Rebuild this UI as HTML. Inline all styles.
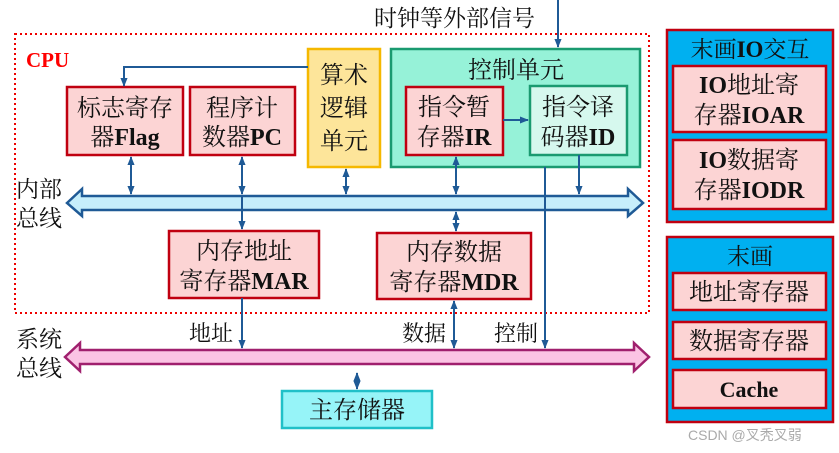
<!DOCTYPE html>
<html><head><meta charset="utf-8"><style>
html,body{margin:0;padding:0;background:#fff;}
svg{display:block;}
text{font-family:"Liberation Serif","Noto Serif CJK SC",serif;fill:#111;}
</style></head><body>
<svg width="839" height="453" viewBox="0 0 839 453" xmlns="http://www.w3.org/2000/svg">
<defs>
<marker id="a" viewBox="0 0 10 10" refX="9" refY="5" markerWidth="4.5" markerHeight="4.5" orient="auto-start-reverse"><path d="M0,1 L10,5 L0,9 z" fill="#1f5a96"/></marker>
</defs>
<rect x="15" y="34" width="634" height="279" fill="none" stroke="#e00" stroke-width="2" stroke-dasharray="2,3"/>
<text x="26" y="67" font-size="21" font-weight="bold" style="fill:#f00">CPU</text>
<text x="374" y="26" font-size="23">时钟等外部信号</text>
<line x1="558" y1="0" x2="558" y2="47" stroke="#1f5a96" stroke-width="2" marker-end="url(#a)"/>

<path d="M67,203 L82,189 L82,196 L628,196 L628,189 L643,203 L628,216 L628,210 L82,210 L82,216 Z" fill="#c6eefb" stroke="#1f5a96" stroke-width="2.5"/>
<path d="M65,357 L80,343 L80,350 L634,350 L634,343 L649,357 L634,371 L634,364 L80,364 L80,371 Z" fill="#fbc4e4" stroke="#a0206e" stroke-width="2.5"/>

<rect x="67" y="87" width="116" height="68" fill="#fcd4d4" stroke="#c00010" stroke-width="2.5"/>
<text x="125" y="116" font-size="24" text-anchor="middle">标志寄存</text>
<text x="125" y="145" font-size="24" text-anchor="middle">器<tspan font-weight="bold">Flag</tspan></text>
<rect x="190" y="87" width="105" height="68" fill="#fcd4d4" stroke="#c00010" stroke-width="2.5"/>
<text x="242" y="116" font-size="24" text-anchor="middle">程序计</text>
<text x="242" y="145" font-size="24" text-anchor="middle">数器<tspan font-weight="bold">PC</tspan></text>
<rect x="308" y="49" width="72" height="118" fill="#fde59a" stroke="#f5b800" stroke-width="2.5"/>
<text x="344" y="83" font-size="24" text-anchor="middle">算术</text>
<text x="344" y="116" font-size="24" text-anchor="middle">逻辑</text>
<text x="344" y="149" font-size="24" text-anchor="middle">单元</text>
<rect x="391" y="49" width="249" height="118" fill="#96f2d8" stroke="#1a9a70" stroke-width="2.5"/>
<text x="516" y="78" font-size="24" text-anchor="middle">控制单元</text>
<rect x="406" y="87" width="97" height="68" fill="#fcd4d4" stroke="#c00010" stroke-width="2.5"/>
<text x="454" y="115" font-size="24" text-anchor="middle">指令暂</text>
<text x="454" y="145" font-size="24" text-anchor="middle">存器<tspan font-weight="bold">IR</tspan></text>
<rect x="530" y="86" width="97" height="69" fill="#d6f8ee" stroke="#1a9a70" stroke-width="2.5"/>
<text x="578" y="115" font-size="24" text-anchor="middle">指令译</text>
<text x="578" y="145" font-size="24" text-anchor="middle">码器<tspan font-weight="bold">ID</tspan></text>
<line x1="503" y1="120" x2="528" y2="120" stroke="#1f5a96" stroke-width="2" marker-end="url(#a)"/>

<rect x="169" y="231" width="150" height="67" fill="#fcd4d4" stroke="#c00010" stroke-width="2.5"/>
<text x="244" y="259" font-size="24" text-anchor="middle">内存地址</text>
<text x="244" y="289" font-size="24" text-anchor="middle">寄存器<tspan font-weight="bold">MAR</tspan></text>
<rect x="377" y="233" width="154" height="66" fill="#fcd4d4" stroke="#c00010" stroke-width="2.5"/>
<text x="454" y="260" font-size="24" text-anchor="middle">内存数据</text>
<text x="454" y="290" font-size="24" text-anchor="middle">寄存器<tspan font-weight="bold">MDR</tspan></text>
<rect x="282" y="391" width="150" height="37" fill="#96f4f8" stroke="#20c0c8" stroke-width="2.5"/>
<text x="357" y="418" font-size="24" text-anchor="middle">主存储器</text>

<text x="16" y="197" font-size="23">内部</text>
<text x="16" y="226" font-size="23">总线</text>
<text x="16" y="347" font-size="23">系统</text>
<text x="16" y="376" font-size="23">总线</text>
<text x="189" y="341" font-size="22">地址</text>
<text x="402" y="341" font-size="22">数据</text>
<text x="494" y="341" font-size="22">控制</text>

<g stroke="#1f5a96" stroke-width="2" fill="none">
<polyline points="308,67 124,67 124,86" marker-end="url(#a)"/>
<line x1="131" y1="157" x2="131" y2="194" marker-start="url(#a)" marker-end="url(#a)"/>
<line x1="242" y1="157" x2="242" y2="194" marker-start="url(#a)" marker-end="url(#a)"/>
<line x1="242" y1="196" x2="242" y2="229" marker-end="url(#a)"/>
<line x1="346" y1="169" x2="346" y2="194" marker-start="url(#a)" marker-end="url(#a)"/>
<line x1="456" y1="157" x2="456" y2="194" marker-start="url(#a)" marker-end="url(#a)"/>
<line x1="456" y1="212" x2="456" y2="231" marker-start="url(#a)" marker-end="url(#a)"/>
<line x1="579" y1="155" x2="579" y2="194" marker-end="url(#a)"/>
<line x1="545" y1="167" x2="545" y2="348" marker-end="url(#a)"/>
<line x1="242" y1="298" x2="242" y2="348" marker-end="url(#a)"/>
<line x1="454" y1="301" x2="454" y2="348" marker-start="url(#a)" marker-end="url(#a)"/>
<line x1="357" y1="373" x2="357" y2="389" marker-start="url(#a)" marker-end="url(#a)"/>
</g>

<rect x="667" y="30" width="166" height="192" fill="#00b0f0" stroke="#c00010" stroke-width="2.5"/>
<text x="750" y="57" font-size="23" text-anchor="middle">末画<tspan font-weight="bold">IO</tspan>交互</text>
<rect x="673" y="66" width="153" height="66" fill="#fcd4d4" stroke="#c00010" stroke-width="2.5"/>
<text x="749" y="93" font-size="24" text-anchor="middle"><tspan font-weight="bold">IO</tspan>地址寄</text>
<text x="749" y="123" font-size="24" text-anchor="middle">存器<tspan font-weight="bold">IOAR</tspan></text>
<rect x="673" y="140" width="153" height="69" fill="#fcd4d4" stroke="#c00010" stroke-width="2.5"/>
<text x="749" y="168" font-size="24" text-anchor="middle"><tspan font-weight="bold">IO</tspan>数据寄</text>
<text x="749" y="198" font-size="24" text-anchor="middle">存器<tspan font-weight="bold">IODR</tspan></text>

<rect x="667" y="237" width="166" height="185" fill="#00b0f0" stroke="#c00010" stroke-width="2.5"/>
<text x="750" y="264" font-size="23" text-anchor="middle">末画</text>
<rect x="673" y="273" width="153" height="37" fill="#fcd4d4" stroke="#c00010" stroke-width="2.5"/>
<text x="749" y="300" font-size="24" text-anchor="middle">地址寄存器</text>
<rect x="673" y="322" width="153" height="37" fill="#fcd4d4" stroke="#c00010" stroke-width="2.5"/>
<text x="749" y="349" font-size="24" text-anchor="middle">数据寄存器</text>
<rect x="673" y="370" width="153" height="38" fill="#fcd4d4" stroke="#c00010" stroke-width="2.5"/>
<text x="749" y="397" font-size="22" font-weight="bold" text-anchor="middle">Cache</text>
<text x="688" y="440" font-size="14" style="fill:#aaa;font-family:'Liberation Sans','Noto Sans CJK SC',sans-serif">CSDN @叉秃叉弱</text>
</svg>
</body></html>
